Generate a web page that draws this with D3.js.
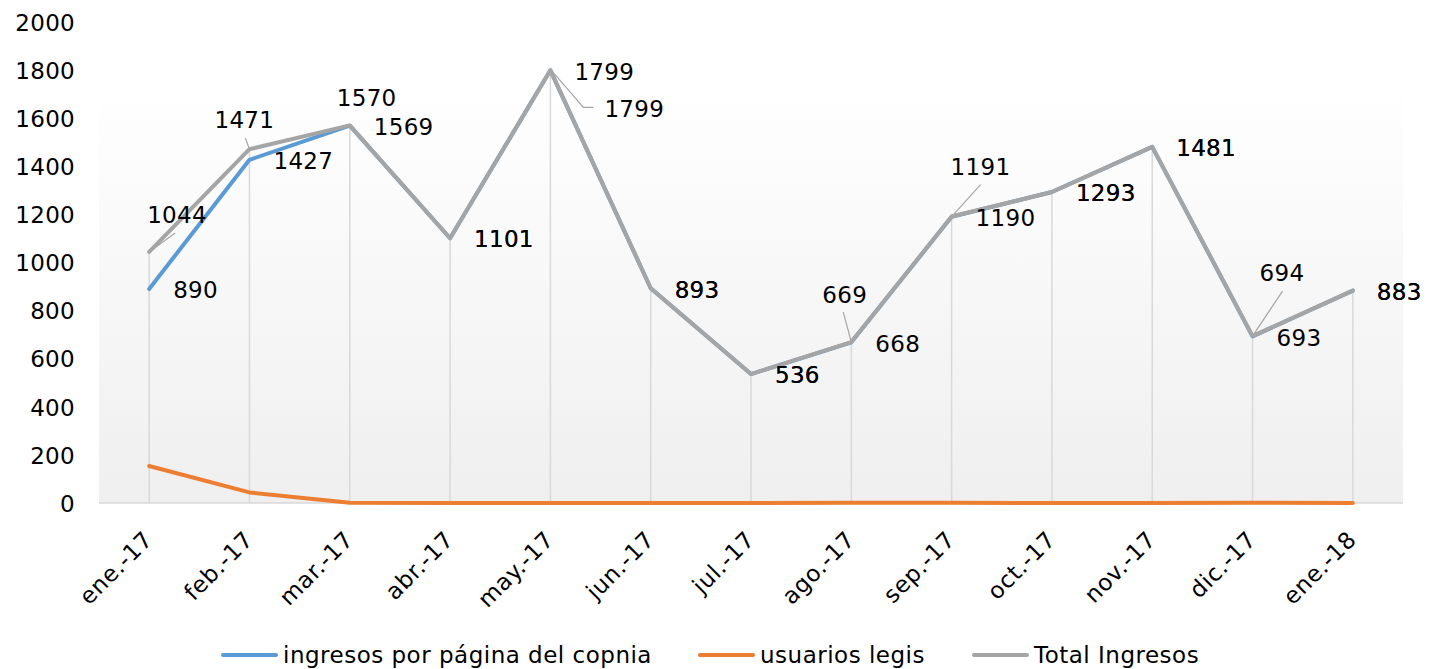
<!DOCTYPE html>
<html>
<head>
<meta charset="utf-8">
<script src="https://cdn.jsdelivr.net/npm/d3@7/dist/d3.min.js"></script>
<style>
  html, body { margin: 0; padding: 0; background: #ffffff; }
  svg { display: block; font-family: "DejaVu Sans", Verdana, sans-serif; }
</style>
</head>
<body>
<svg id="chart" width="1441" height="669"></svg>
<script>
// Monthly data
const months = ["ene.-17", "feb.-17", "mar.-17", "abr.-17", "may.-17", "jun.-17",
                "jul.-17", "ago.-17", "sep.-17", "oct.-17", "nov.-17", "dic.-17", "ene.-18"];
const ingresosPagina = [890, 1427, 1569, 1101, 1799, 893, 536, 668, 1190, 1293, 1481, 693, 883];
const usuariosLegis  = [154, 44, 1, 0, 0, 0, 0, 1, 1, 0, 0, 1, 0];
const totalIngresos  = [1044, 1471, 1570, 1101, 1799, 893, 536, 669, 1191, 1293, 1481, 694, 883];
const yTicks = [0, 200, 400, 600, 800, 1000, 1200, 1400, 1600, 1800, 2000];
const seriesNames = ["ingresos por página del copnia", "usuarios legis", "Total Ingresos"];
const seriesColors = ["#5b9bd5", "#ed7d31", "#a5a5a5"];

const svg = d3.select("#chart");
const plot = { left: 99, right: 1403, top: 85, bottom: 503 };

const x = d3.scaleBand().domain(months).range([plot.left, plot.right]).paddingInner(0).paddingOuter(0);
const cx = m => x(m) + x.bandwidth() / 2;
const y = d3.scaleLinear().domain([0, 2000]).range([503, 22]);

// Plot area background: soft vertical gradient
const defs = svg.append("defs");
const grad = defs.append("linearGradient").attr("id", "bg").attr("x1", 0).attr("y1", 0).attr("x2", 0).attr("y2", 1);
grad.append("stop").attr("offset", "0%").attr("stop-color", "#ffffff");
grad.append("stop").attr("offset", "100%").attr("stop-color", "#efefef");
svg.append("rect")
  .attr("x", plot.left).attr("y", plot.top)
  .attr("width", plot.right - plot.left).attr("height", plot.bottom - plot.top)
  .attr("fill", "url(#bg)");

// Drop lines from the highest point of each month to the axis
const maxVals = months.map((m, i) => Math.max(ingresosPagina[i], usuariosLegis[i], totalIngresos[i]));
svg.append("g").selectAll("line").data(months).join("line")
  .attr("x1", d => cx(d)).attr("x2", d => cx(d))
  .attr("y1", (d, i) => y(maxVals[i])).attr("y2", y(0))
  .attr("stroke", "#d9d9d9").attr("stroke-width", 1.5);

// Category axis line
svg.append("line")
  .attr("x1", plot.left).attr("x2", plot.right)
  .attr("y1", y(0)).attr("y2", y(0))
  .attr("stroke", "#d9d9d9").attr("stroke-width", 1.5);

// Y axis labels
const yAxis = d3.axisLeft(y).tickValues(yTicks).tickFormat(d3.format("d")).tickSize(0).tickPadding(0);
const yg = svg.append("g").attr("transform", "translate(75,0)").call(yAxis);
yg.select(".domain").remove();
yg.selectAll("text")
  .attr("font-family", "DejaVu Sans, Verdana, sans-serif")
  .attr("font-size", 23).attr("fill", "#000").attr("dy", "0.36em")
  .attr("letter-spacing", "0.3px");

// X axis labels, rotated
const xAxis = d3.axisBottom(x).tickSize(0).tickPadding(0);
const xg = svg.append("g").attr("transform", `translate(0,${y(0)})`).call(xAxis);
xg.select(".domain").remove();
xg.selectAll("text")
  .attr("font-family", "DejaVu Sans, Verdana, sans-serif")
  .attr("font-size", 23).attr("fill", "#000")
  .attr("letter-spacing", "0.6px")
  .attr("text-anchor", "end")
  .attr("dy", "0")
  .attr("transform", "translate(5,38) rotate(-45)");

// Lines
const line = d3.line().x((d, i) => cx(months[i])).y(d => y(d));
const seriesData = [ingresosPagina, usuariosLegis, totalIngresos];
seriesData.forEach((vals, k) => {
  svg.append("path").datum(vals)
    .attr("d", line)
    .attr("fill", "none")
    .attr("stroke", seriesColors[k])
    .attr("stroke-width", 4)
    .attr("stroke-linejoin", "round")
    .attr("stroke-linecap", "round");
});

// Data labels: default placement right of the point, some moved with leader lines
const defaultOffset = { dx: 24, dy: 1 };
const totalLabelPlacement = {
  0: { dx: -2, dy: -37, leader: [[0, 0], [26, -19]] },
  1: { dx: -35, dy: -30, leader: [[0, 0], [-4, -11]] },
  2: { dx: -13, dy: -28 },
  4: { dx: 54, dy: 38, leader: [[1, 0], [33, 37], [43, 37]] },
  7: { dx: -29, dy: -47, leader: [[0, 0], [-8, -30]] },
  8: { dx: -1, dy: -50, leader: [[0, 0], [29, -32]] },
  11: { dx: 7, dy: -63, leader: [[0, 0], [30, -45]] }
};

const labels = svg.append("g").attr("font-family", "DejaVu Sans, Verdana, sans-serif")
  .attr("font-size", 23).attr("fill", "#000").attr("letter-spacing", "0.3px");

function addLabel(i, v, place) {
  const px = cx(months[i]), py = y(v);
  if (place.leader) {
    svg.append("path")
      .attr("d", d3.line()(place.leader.map(p => [px + p[0], py + p[1]])))
      .attr("fill", "none").attr("stroke", "#a5a5a5").attr("stroke-width", 1.2);
  }
  labels.append("text")
    .attr("x", px + place.dx).attr("y", py + place.dy)
    .attr("dy", "0.36em")
    .text(v);
}

ingresosPagina.forEach((v, i) => addLabel(i, v, defaultOffset));
totalIngresos.forEach((v, i) => addLabel(i, v, totalLabelPlacement[i] || defaultOffset));

// Legend
const legendItems = [
  { x: 223, textX: 283 },
  { x: 700, textX: 760 },
  { x: 974, textX: 1034 }
];
const legend = svg.append("g");
seriesNames.forEach((name, k) => {
  const it = legendItems[k];
  legend.append("line")
    .attr("x1", it.x).attr("x2", it.x + 53)
    .attr("y1", 655).attr("y2", 655)
    .attr("stroke", seriesColors[k]).attr("stroke-width", 4)
    .attr("stroke-linecap", "round");
  legend.append("text")
    .attr("x", it.textX).attr("y", 655).attr("dy", "0.36em")
    .attr("font-size", 23).attr("fill", "#000")
    .attr("letter-spacing", "0.5px")
    .text(name);
});
</script>
</body>
</html>
